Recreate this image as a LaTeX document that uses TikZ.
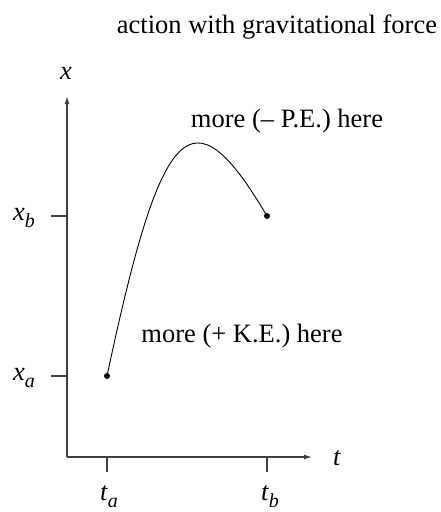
\documentclass[tikz,border=0pt]{standalone}
\usepackage{fontspec}
\setmainfont{Liberation Serif}
\usetikzlibrary{arrows.meta}
\newcommand{\mysub}[1]{\raisebox{-7pt}{\fontsize{20}{24}\selectfont\textit{#1}}}
\begin{document}
\begin{tikzpicture}[x=1pt,y=-1pt,
  axis/.style={draw=black!75,line width=1.3pt},
  tick/.style={draw=black!75,line width=1.3pt},
  lbl/.style={font=\fontsize{26.5}{30}\selectfont,inner sep=0pt},
  dot/.style={circle,fill=black,inner sep=0pt,minimum size=6pt}]
\useasboundingbox (0,0) rectangle (440,512);
% axes
\coordinate (O) at (67,457);
\coordinate (Xend) at (312,457);
\coordinate (Yend) at (67,96);
\draw[axis,-{Latex[length=8pt,width=5pt]}] (O) -- (Xend);
\draw[axis,-{Latex[length=8pt,width=5pt]}] (O) -- (Yend);
% ticks
\coordinate (xbL) at (51,216); \coordinate (xbR) at (67,216);
\coordinate (xaL) at (51,376); \coordinate (xaR) at (67,376);
\coordinate (taT) at (107,457); \coordinate (taB) at (107,472);
\coordinate (tbT) at (267,457); \coordinate (tbB) at (267,472);
\draw[tick] (xbL) -- (xbR);
\draw[tick] (xaL) -- (xaR);
\draw[tick] (taT) -- (taB);
\draw[tick] (tbT) -- (tbB);
% curve
\node[dot] (A) at (107,376) {};
\node[dot] (B) at (267,216) {};
\draw[line width=0.9pt] (A.center) .. controls (161,122) and (191,87) .. (B.center);
% labels
\node[lbl] (title) at (277,27) {action with gravitational force};
\node[lbl] (xlab) at (66,73) {\textit{x}};
\node[lbl] (tlab) at (337,458) {\textit{t}};
\node[lbl,anchor=base] (xb) at (24,220) {\textit{x}\mysub{b}};
\node[lbl,anchor=base] (xa) at (24,380) {\textit{x}\mysub{a}};
\node[lbl,anchor=base] (ta) at (109,500) {\textit{t}\mysub{a}};
\node[lbl,anchor=base] (tb) at (270,500) {\textit{t}\mysub{b}};
\node[lbl] (pe) at (287,121) {more (\textendash{} P.E.) here};
\node[lbl] (ke) at (242,336) {more (+ K.E.) here};
\end{tikzpicture}
\end{document}
